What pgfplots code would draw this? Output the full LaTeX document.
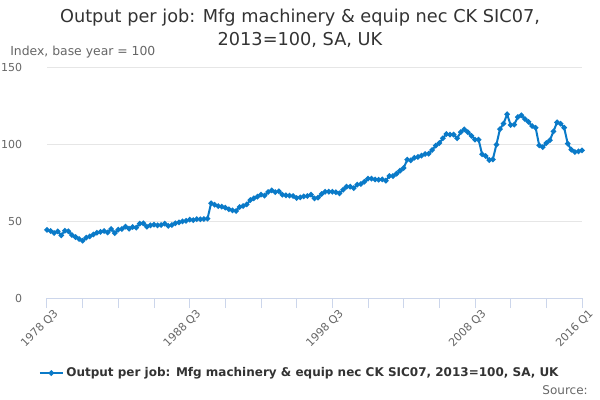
\documentclass[border=0pt]{standalone}
\usepackage{fontspec}
\setmainfont{DejaVu Sans}
\usepackage{pgfplots}
\pgfplotsset{compat=1.18}
\definecolor{titlec}{HTML}{333333}
\definecolor{labc}{HTML}{666666}
\definecolor{gridc}{HTML}{E6E6E6}
\definecolor{axisc}{HTML}{CCD6EB}
\definecolor{linec}{RGB}{10,122,200}
\begin{document}
\begin{tikzpicture}[x=0.75pt,y=-0.75pt]
\useasboundingbox (0,0) rectangle (600,400);
\coordinate (o) at (47,298);
\node[text=titlec,font=\fontsize{13.3}{16}\selectfont] at (300,18) {Output per job: Mfg machinery \& equip nec CK SIC07,};
\node[text=titlec,font=\fontsize{13.3}{16}\selectfont] at (300,40) {2013=100, SA, UK};
\node[text=labc,font=\fontsize{9.3}{11}\selectfont,anchor=west,inner sep=0pt] at (10,52) {Index, base year = 100};
\node[text=labc,font=\fontsize{9}{11}\selectfont,anchor=east,inner sep=0pt] at (588,390) {Source:};
\begin{axis}[
  at={(o)}, anchor=south west,
  scale only axis, width=401.25pt, height=173.25pt,
  xmin=0, xmax=150, ymin=0, ymax=150,
  separate axis lines,
  axis x line*=bottom, axis y line*=left,
  y axis line style={draw=none},
  x axis line style={color=axisc, line width=0.75pt},
  xtick={0,40,80,120,150},
  xticklabels={1978 Q3,1988 Q3,1998 Q3,2008 Q3,2016 Q1},
  minor xtick={10,20,30,50,60,70,90,100,110,130,140},
  tick align=outside,
  major tick length=7.5pt,
  minor tick length=7.5pt,
  xtick style={color=axisc, line width=0.75pt},
  minor x tick style={color=axisc, line width=0.75pt},
  ytick={0,50,100,150},
  ytick style={draw=none},
  ymajorgrids, major grid style={color=gridc, line width=0.75pt},
  /pgf/number format/assume math mode=true,
  yticklabel style={anchor=east, inner sep=0pt, xshift=-11pt, font=\fontsize{8.25}{10}\selectfont, text=labc},
  xticklabel style={rotate=45, anchor=east, inner sep=0pt, xshift=3pt, yshift=-7pt, font=\fontsize{8.25}{10}\selectfont, text=labc},
  clip=false,
  legend style={at={(0.473,-0.325)}, anchor=center, draw=none, fill=none, font=\bfseries\fontsize{9}{11}\selectfont, text=titlec},
  legend cell align=left,
]
\addplot[color=linec, line width=1.5pt, mark=*, mark size=1.2pt] table[x=i,y=v] {
i v
0 44.2
1 43.5
2 42.2
3 43.3
4 40.7
5 43.7
6 43.3
7 40.9
8 39.6
9 38.3
10 37.2
11 39.2
12 40.0
13 41.3
14 42.4
15 43.0
16 43.5
17 42.6
18 44.8
19 42.2
20 44.4
21 44.8
22 46.3
23 45.0
24 46.1
25 45.7
26 48.3
27 48.5
28 46.3
29 47.2
30 47.6
31 47.2
32 47.4
33 48.3
34 46.8
35 47.4
36 48.5
37 49.1
38 49.8
39 50.1
40 50.9
41 50.6
42 51.2
43 51.1
44 51.3
45 51.5
46 61.5
47 60.6
48 59.7
49 59.3
50 58.7
51 57.6
52 56.9
53 56.5
54 59.1
55 59.7
56 60.8
57 63.6
58 64.7
59 65.8
60 67.1
61 66.5
62 68.8
63 69.9
64 68.8
65 69.3
66 67.1
67 66.7
68 66.5
69 66.2
70 64.9
71 65.4
72 66.0
73 66.2
74 67.1
75 64.7
76 65.2
77 67.5
78 69.0
79 69.0
80 69.0
81 68.7
82 68.0
83 70.3
84 72.3
85 72.3
86 71.4
87 73.6
88 74.0
89 75.5
90 77.5
91 77.5
92 77.0
93 76.8
94 77.0
95 76.2
96 79.2
97 79.2
98 80.7
99 82.7
100 84.4
101 89.8
102 89.4
103 91.1
104 91.6
105 92.4
106 93.5
107 93.7
108 96.1
109 98.9
110 100.6
111 103.7
112 106.5
113 106.1
114 106.1
115 103.7
116 107.7
117 109.5
118 107.7
119 105.3
120 102.9
121 102.8
122 93.3
123 92.2
124 89.6
125 90.0
126 99.6
127 109.7
128 113.2
129 119.3
130 112.3
131 112.6
132 117.5
133 118.6
134 116.2
135 114.3
136 111.7
137 110.6
138 99.1
139 98.0
140 100.6
141 102.4
142 108.2
143 114.1
144 113.2
145 110.6
146 100.2
147 96.3
148 94.8
149 95.2
150 95.9
};
\addlegendentry{Output per job: Mfg machinery \& equip nec CK SIC07, 2013=100, SA, UK}
\end{axis}
\end{tikzpicture}
\end{document}
